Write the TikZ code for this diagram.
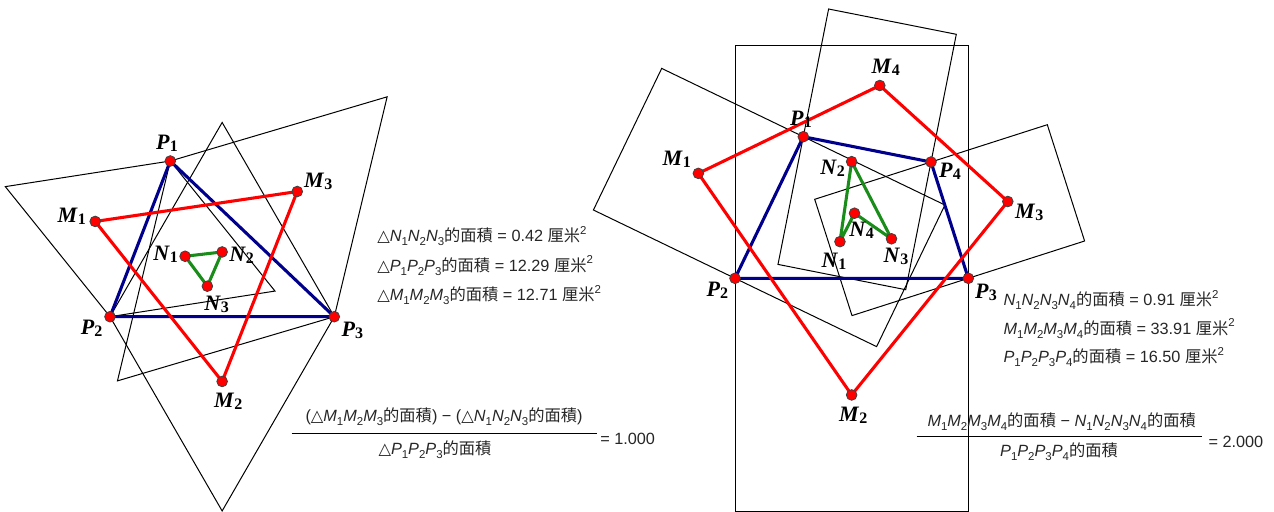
\documentclass[tikz,border=0pt]{standalone}
\usepackage{fontspec}
\setmainfont{Liberation Serif}
\newfontfamily\sansf{Liberation Sans}
\newfontfamily\cjk{Noto Sans CJK TC}
\newfontfamily\symf{DejaVu Sans}
\usetikzlibrary{calc}
\definecolor{pblue}{RGB}{0,0,140}
\definecolor{mred}{RGB}{255,0,0}
\definecolor{ngreen}{RGB}{25,140,25}
\newcommand{\ix}[2]{\textit{#1}\raisebox{-0.45ex}{\fontsize{8.6}{8.6}\selectfont #2}}
\newcommand{\trig}{{\symf\char"25B3}}
\newcommand{\mj}{{\cjk 的面積}}
\newcommand{\cmsq}{{\cjk 厘米}\raisebox{0.85ex}{\fontsize{8.6}{8.6}\selectfont 2}}
\newcommand{\vlab}[2]{\textbf{\textit{#1}}\raisebox{-0.2ex}{\bfseries\fontsize{12}{12}\selectfont #2}}
\begin{document}
\begin{tikzpicture}[x=0.75pt,y=-0.75pt,
  thinl/.style={draw=black,line width=0.75pt,line join=miter},
  bluel/.style={draw=pblue,line width=2.3pt,line join=round},
  redl/.style={draw=mred,line width=2.3pt,line join=round},
  greenl/.style={draw=ngreen,line width=2.3pt,line join=round},
  dot/.style={circle,fill=red,draw=black!75,line width=0.6pt,minimum size=8pt,inner sep=0pt},
  vl/.style={inner sep=0pt,font=\fontsize{16.5}{16.5}\selectfont},
  txt/.style={inner sep=0pt,anchor=west,text=black!85,font=\sansf\fontsize{12.2}{12.2}\selectfont},
  ctxt/.style={inner sep=0pt,text=black!85,font=\sansf\fontsize{12.2}{12.2}\selectfont},
  bar/.style={draw=black,line width=1.1pt}]
\useasboundingbox (0,0) rectangle (1274,511);
% ---------------- left figure: triangle ----------------
\coordinate (P1) at (170.3,161);
\coordinate (P2) at (110,316.7);
\coordinate (P3) at (334.3,316.7);
\coordinate (A12o) at ($(P1)!1!-60:(P2)$);
\coordinate (A23o) at ($(P2)!1!-60:(P3)$);
\coordinate (A31o) at ($(P3)!1!-60:(P1)$);
\coordinate (A12i) at ($(P1)!1!60:(P2)$);
\coordinate (A23i) at ($(P2)!1!60:(P3)$);
\coordinate (A31i) at ($(P3)!1!60:(P1)$);
\coordinate (M1) at ($(P1)!0.5!(P2)!0.33333!(A12o)$);
\coordinate (M2) at ($(P2)!0.5!(P3)!0.33333!(A23o)$);
\coordinate (M3) at ($(P3)!0.5!(P1)!0.33333!(A31o)$);
\coordinate (N1) at ($(P1)!0.5!(P2)!0.33333!(A12i)$);
\coordinate (N2) at ($(P2)!0.5!(P3)!0.33333!(A23i)$);
\coordinate (N3) at ($(P3)!0.5!(P1)!0.33333!(A31i)$);
\draw[thinl] (P1) -- (A12o) -- (P2) -- (A12i) -- cycle;
\draw[thinl] (P2) -- (A23o) -- (P3) -- (A23i) -- cycle;
\draw[thinl] (P3) -- (A31o) -- (P1) -- (A31i) -- cycle;
\draw[bluel] (P1) -- (P2) -- (P3) -- cycle;
\draw[redl] (M1) -- (M2) -- (M3) -- cycle;
\draw[greenl] (N1) -- (N2) -- (N3) -- cycle;
\foreach \p in {P1,P2,P3,M1,M2,M3,N1,N2,N3} \node[dot] at (\p) {};
\node[vl] (lP1) at (167,143) {\vlab{P}{1}};
\node[vl] (lP2) at (91.7,328.5) {\vlab{P}{2}};
\node[vl] (lP3) at (352.3,330.7) {\vlab{P}{3}};
\node[vl] (lM1) at (71.7,216.7) {\vlab{M}{1}};
\node[vl] (lM2) at (228.3,401.7) {\vlab{M}{2}};
\node[vl] (lM3) at (318.3,181.7) {\vlab{M}{3}};
\node[vl] (lN1) at (165.7,254) {\vlab{N}{1}};
\node[vl] (lN2) at (241.7,255) {\vlab{N}{2}};
\node[vl] (lN3) at (216.7,304.3) {\vlab{N}{3}};
% texts left
\node[txt] (tL1) at (377,236) {\trig\ix{N}{1}\ix{N}{2}\ix{N}{3}\mj\ = 0.42 \cmsq};
\node[txt] (tL2) at (377,265.5) {\trig\ix{P}{1}\ix{P}{2}\ix{P}{3}\mj\ = 12.29 \cmsq};
\node[txt] (tL3) at (377,295) {\trig\ix{M}{1}\ix{M}{2}\ix{M}{3}\mj\ = 12.71 \cmsq};
\node[ctxt] (fLn) at (444,417) {(\trig\ix{M}{1}\ix{M}{2}\ix{M}{3}\mj) {\char"2212} (\trig\ix{N}{1}\ix{N}{2}\ix{N}{3}\mj)};
\coordinate (bLa) at (291.7,433.3);
\coordinate (bLb) at (596.7,433.3);
\draw[bar] (bLa) -- (bLb);
\node[ctxt] (fLd) at (435,449.5) {\trig\ix{P}{1}\ix{P}{2}\ix{P}{3}\mj};
\node[txt] (fLe) at (600,439.3) {= 1.000};
% ---------------- right figure: quadrilateral ----------------
\coordinate (Q1) at (803.3,136.7);
\coordinate (Q2) at (735,278.3);
\coordinate (Q3) at (968.3,278.3);
\coordinate (Q4) at (931,162);
\foreach \a/\b/\k in {Q1/Q2/1,Q2/Q3/2,Q3/Q4/3,Q4/Q1/4}{
  \coordinate (Ao\k) at ($(\a)!1!-90:(\b)$);
  \coordinate (Bo\k) at ($(\b)!1!90:(\a)$);
  \coordinate (Ai\k) at ($(\a)!1!90:(\b)$);
  \coordinate (Bi\k) at ($(\b)!1!-90:(\a)$);
  \coordinate (RM\k) at ($(\a)!0.5!(Bo\k)$);
  \coordinate (RN\k) at ($(\a)!0.5!(Bi\k)$);
  \draw[thinl] (Ao\k) -- (Bo\k) -- (Bi\k) -- (Ai\k) -- cycle;
}
\draw[bluel] (Q1) -- (Q2) -- (Q3) -- (Q4) -- cycle;
\draw[redl] (RM1) -- (RM2) -- (RM3) -- (RM4) -- cycle;
\draw[greenl] (RN1) -- (RN2) -- (RN3) -- (RN4) -- cycle;
\foreach \p in {Q1,Q2,Q3,Q4,RM1,RM2,RM3,RM4,RN1,RN2,RN3,RN4} \node[dot] at (\p) {};
\node[vl] (rP1) at (801,119) {\vlab{P}{1}};
\node[vl] (rP2) at (717.3,290) {\vlab{P}{2}};
\node[vl] (rP3) at (986,292.3) {\vlab{P}{3}};
\node[vl] (rP4) at (950,171.7) {\vlab{P}{4}};
\node[vl] (rM1) at (676.7,159.3) {\vlab{M}{1}};
\node[vl] (rM2) at (853.3,415) {\vlab{M}{2}};
\node[vl] (rM3) at (1029.3,212.7) {\vlab{M}{3}};
\node[vl] (rM4) at (885.7,67.7) {\vlab{M}{4}};
\node[vl] (rN1) at (834,261) {\vlab{N}{1}};
\node[vl] (rN2) at (832.7,168.3) {\vlab{N}{2}};
\node[vl] (rN3) at (896,256.7) {\vlab{N}{3}};
\node[vl] (rN4) at (861.7,230.7) {\vlab{N}{4}};
% texts right
\node[txt] (tR1) at (1003.3,300) {\ix{N}{1}\ix{N}{2}\ix{N}{3}\ix{N}{4}\mj\ = 0.91 \cmsq};
\node[txt] (tR2) at (1003.3,328.5) {\ix{M}{1}\ix{M}{2}\ix{M}{3}\ix{M}{4}\mj\ = 33.91 \cmsq};
\node[txt] (tR3) at (1003.3,357) {\ix{P}{1}\ix{P}{2}\ix{P}{3}\ix{P}{4}\mj\ = 16.50 \cmsq};
\node[ctxt] (fRn) at (1061.7,421.7) {\ix{M}{1}\ix{M}{2}\ix{M}{3}\ix{M}{4}\mj\ {\char"2212} \ix{N}{1}\ix{N}{2}\ix{N}{3}\ix{N}{4}\mj};
\coordinate (bRa) at (916.7,436.7);
\coordinate (bRb) at (1201.7,436.7);
\draw[bar] (bRa) -- (bRb);
\node[ctxt] (fRd) at (1059,451.7) {\ix{P}{1}\ix{P}{2}\ix{P}{3}\ix{P}{4}\mj};
\node[txt] (fRe) at (1208.3,442) {= 2.000};
\end{tikzpicture}
\end{document}
